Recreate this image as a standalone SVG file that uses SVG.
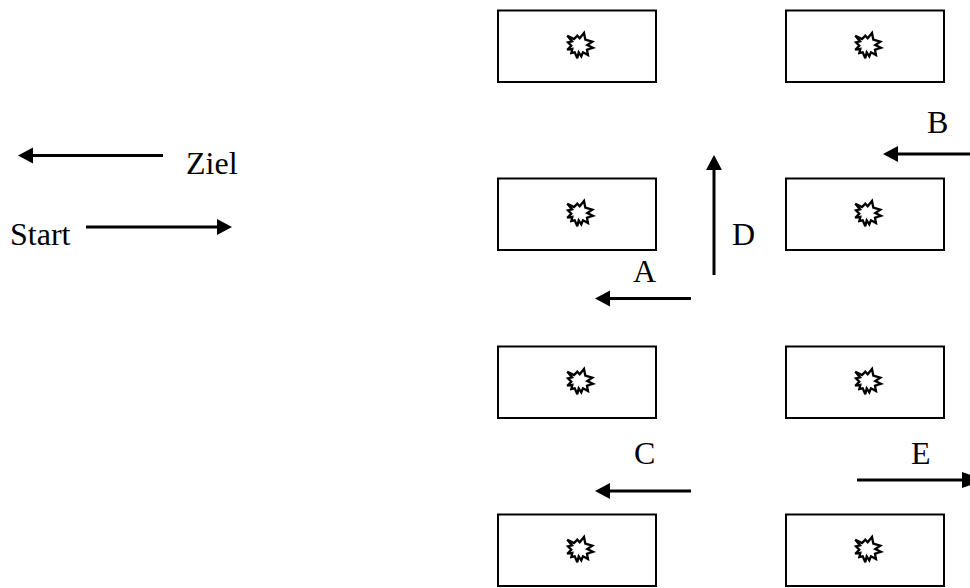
<svg xmlns="http://www.w3.org/2000/svg" xmlns:xlink="http://www.w3.org/1999/xlink" width="970" height="588" viewBox="0 0 970 588">
<style>
.box{fill:#fff;stroke:#000;stroke-width:2}
.star{fill:#fff;stroke:#000;stroke-width:2.300;stroke-linejoin:miter;stroke-miterlimit:3}
.ln{stroke:#000;stroke-width:3;fill:none}
.hd{fill:#000;stroke:none}
text{font-family:"Liberation Serif","Times New Roman",serif;font-size:32px;fill:#000}
</style>
<defs>
<g id="cell">
<rect class="box" x="0" y="0" width="158" height="71.5"/>
<polygon class="star" transform="translate(-2 -1)" points="71.300,26.200 78,29.500 81.300,26.200 83.700,28.800 88,23.500 89.300,30.200 96.300,32.200 91.300,35.500 97,38.200 91,40.200 92,45.500 87,42.800 85.300,46.800 82.700,42.800 81.300,48.800 78.700,42.800 75.300,43.500 76.300,39.500 71.300,40.200 75.300,36.200 72,32.800 76,31.800"/>
</g>
</defs>
<rect width="970" height="588" fill="#fff"/>
<g id="node-1"><use xlink:href="#cell" href="#cell" x="498" y="10.500"/></g>
<g id="node-2"><use xlink:href="#cell" href="#cell" x="786" y="10.500"/></g>
<g id="node-3"><use xlink:href="#cell" href="#cell" x="498" y="178.500"/></g>
<g id="node-4"><use xlink:href="#cell" href="#cell" x="786" y="178.500"/></g>
<g id="node-5"><use xlink:href="#cell" href="#cell" x="498" y="346.500"/></g>
<g id="node-6"><use xlink:href="#cell" href="#cell" x="786" y="346.500"/></g>
<g id="node-7"><use xlink:href="#cell" href="#cell" x="498" y="514.500"/></g>
<g id="node-8"><use xlink:href="#cell" href="#cell" x="786" y="514.500"/></g>
<g id="connectors">
<path class="ln" d="M163 155.500H30"/><path class="hd" d="M18 155.500L33 147.500V163.500Z"/>
<path class="ln" d="M86 227H220"/><path class="hd" d="M232 227L217 219V235Z"/>
<path class="ln" d="M714 275V167"/><path class="hd" d="M714 155L706 170H722Z"/>
<path class="ln" d="M691 298.500H607"/><path class="hd" d="M595 298.500L610 290.500V306.500Z"/>
<path class="ln" d="M970 154H895"/><path class="hd" d="M883 154L898 146V162Z"/>
<path class="ln" d="M691 491H607"/><path class="hd" d="M595 491L610 483V499Z"/>
<path class="ln" d="M857 480H965"/><path class="hd" d="M985 480L962 472V488Z"/>
</g>
<g id="labels">
<text x="186" y="174">Ziel</text>
<text x="10" y="245">Start</text>
<text x="732" y="245">D</text>
<text x="633" y="282">A</text>
<text x="927" y="133">B</text>
<text x="634" y="464">C</text>
<text x="911" y="464">E</text>
</g>
</svg>
